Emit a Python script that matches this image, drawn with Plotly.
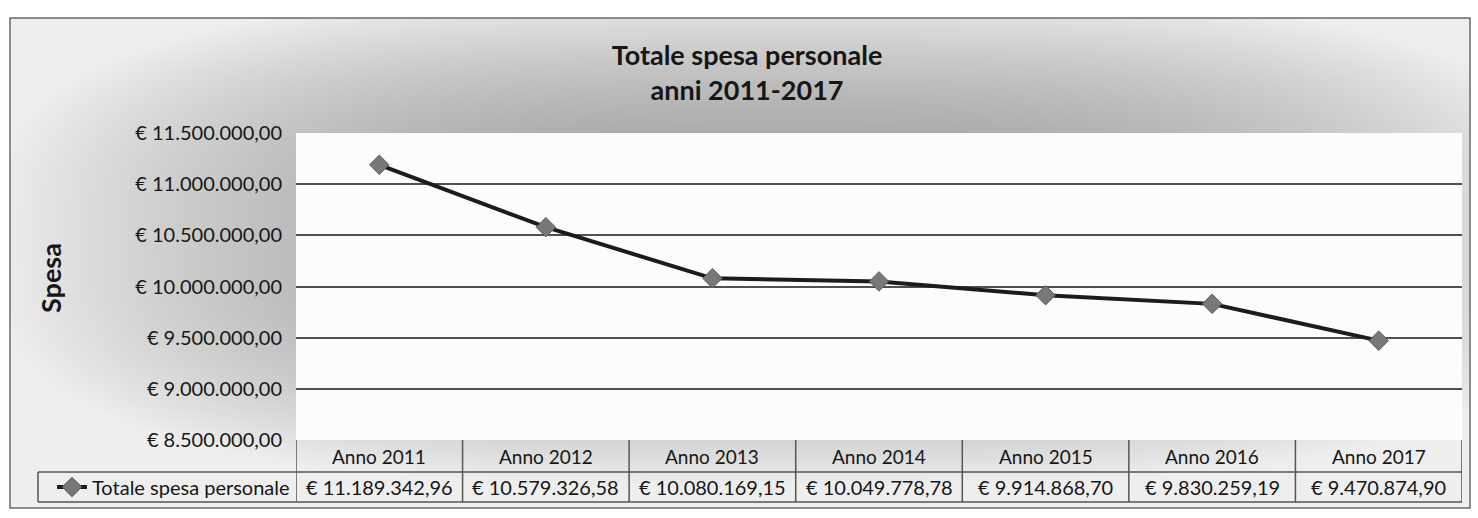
import base64, struct, zlib
import plotly.graph_objects as go

# ---------------- data ----------------
categories = ["Anno 2011", "Anno 2012", "Anno 2013", "Anno 2014",
              "Anno 2015", "Anno 2016", "Anno 2017"]
spesa = [11189342.96, 10579326.58, 10080169.15, 10049778.78,
         9914868.70, 9830259.19, 9470874.90]
series_name = "Totale spesa personale"
title_text = "Totale spesa personale<br>anni 2011-2017"
y_title = "Spesa"
y_min, y_max, y_step = 8500000, 11500000, 500000

# ---------------- geometry (pixels) ----------------
W, H = 1478, 518
ML, MR, MT, MB = 296, 16, 133, 78
PW, PH = W - ML - MR, H - MT - MB


def px_x(p):
    return (p - ML) / PW


def px_y(p):
    return (H - MB - p) / PH


def eur(v):
    s = f"{v:,.2f}".replace(",", "X").replace(".", ",").replace("X", ".")
    return "€ " + s


# ---------------- gradient background (PNG built in-script) ----------------
def gradient_png(w, h):
    rows = []
    for j in range(h):
        dy = abs((j + 0.5) / h - 0.45) * 2
        row = bytearray([0])
        for i in range(w):
            dx = abs((i + 0.5) / w - 0.53) * 1.85
            r = min(1.0, (dx ** 3 + dy ** 3) ** (1 / 3))
            c = 238 - 80 * (1 - r * r)
            row.append(int(max(0, min(255, c))))
        rows.append(bytes(row))
    raw = b"".join(rows)

    def chunk(t, d):
        c = struct.pack(">I", len(d)) + t + d
        return c + struct.pack(">I", zlib.crc32(t + d) & 0xFFFFFFFF)

    png = b"\x89PNG\r\n\x1a\n"
    png += chunk(b"IHDR", struct.pack(">IIBBBBB", w, h, 8, 0, 0, 0, 0))
    png += chunk(b"IDAT", zlib.compress(raw, 9))
    png += chunk(b"IEND", b"")
    return "data:image/png;base64," + base64.b64encode(png).decode()


box_l, box_r, box_t, box_b = 10, 1470, 18, 508
grad = gradient_png(365, 124)

FONT = "Lato"
TXT = "#161616"
LINEC = "#555555"

fig = go.Figure()
fig.add_trace(go.Scatter(
    x=categories, y=spesa, name=series_name, mode="lines+markers",
    line=dict(color="#1c1c1c", width=4),
    marker=dict(symbol="diamond", size=15, color="#787878",
                line=dict(color="#5a5a5a", width=1)),
))

shapes = []
# outer chart border
shapes.append(dict(type="rect", xref="paper", yref="paper", layer="below",
                   x0=px_x(box_l), x1=px_x(box_r), y0=px_y(box_b), y1=px_y(box_t),
                   line=dict(color="#6a6a6a", width=1.5), fillcolor="rgba(0,0,0,0)"))
# white plot area
shapes.append(dict(type="rect", xref="paper", yref="paper", layer="below",
                   x0=0, x1=1, y0=0, y1=1, line=dict(width=0), fillcolor="#fcfcfc"))

# data table
row1 = px_y(472)
row2 = px_y(502)
n = len(categories)
for k in range(n + 1):
    shapes.append(dict(type="line", xref="x", yref="paper", x0=k - 0.5, x1=k - 0.5,
                       y0=row2, y1=0, line=dict(color=LINEC, width=1.5)))
shapes.append(dict(type="line", xref="paper", yref="paper", x0=px_x(38), x1=1,
                   y0=row1, y1=row1, line=dict(color=LINEC, width=1.5)))
shapes.append(dict(type="line", xref="paper", yref="paper", x0=px_x(38), x1=1,
                   y0=row2, y1=row2, line=dict(color=LINEC, width=1.5)))
shapes.append(dict(type="line", xref="paper", yref="paper", x0=px_x(38), x1=px_x(38),
                   y0=row2, y1=row1, line=dict(color=LINEC, width=1.5)))

annotations = []
for c, v in zip(categories, spesa):
    annotations.append(dict(x=c, xref="x", y=(0 + row1) / 2, yref="paper",
                            text=c, showarrow=False, yanchor="middle",
                            font=dict(family=FONT, size=19, color=TXT)))
    annotations.append(dict(x=c, xref="x", y=(row1 + row2) / 2, yref="paper",
                            text=eur(v), showarrow=False, yanchor="middle",
                            font=dict(family=FONT, size=20, color=TXT)))
annotations.append(dict(x=px_x(50), xref="paper", y=px_y(278), yref="paper",
                        text=f"<b>{y_title}</b>", textangle=-90, showarrow=False,
                        xanchor="center", yanchor="middle",
                        font=dict(family=FONT, size=27, color=TXT)))

fig.update_layout(
    width=W, height=H,
    margin=dict(l=ML, r=MR, t=MT, b=MB, pad=0),
    paper_bgcolor="white", plot_bgcolor="rgba(0,0,0,0)",
    separators=",.",
    font=dict(family=FONT, color=TXT),
    title=dict(text=f"<b>{title_text}</b>", x=747 / W, xanchor="center",
               y=1 - 65 / H, yanchor="top", yref="container",
               font=dict(family=FONT, size=27, color=TXT)),
    images=[dict(source=grad, xref="paper", yref="paper", layer="below",
                 x=px_x(box_l), y=px_y(box_t), sizex=px_x(box_r) - px_x(box_l),
                 sizey=px_y(box_t) - px_y(box_b), sizing="stretch",
                 xanchor="left", yanchor="top")],
    shapes=shapes,
    annotations=annotations,
    showlegend=True,
    legend=dict(x=px_x(52), xanchor="left", y=(row1 + row2) / 2, yanchor="middle",
                bgcolor="rgba(0,0,0,0)", borderwidth=0,
                font=dict(family=FONT, size=20, color=TXT)),
    xaxis=dict(range=[-0.5, n - 0.5], showticklabels=False, showgrid=False,
               zeroline=False, ticks="", showline=False, fixedrange=True),
    yaxis=dict(range=[y_min, y_max], tick0=y_min, dtick=y_step,
               tickprefix="€ ", tickformat=",.2f", ticks="",
               showgrid=True, gridcolor="#505050", gridwidth=1.8,
               zeroline=False, showline=False, ticklabelstandoff=13,
               tickfont=dict(family=FONT, size=20, color=TXT)),
)

fig.write_html("out.html", config={"displayModeBar": False},
               post_script="document.body.style.margin='0px';")
